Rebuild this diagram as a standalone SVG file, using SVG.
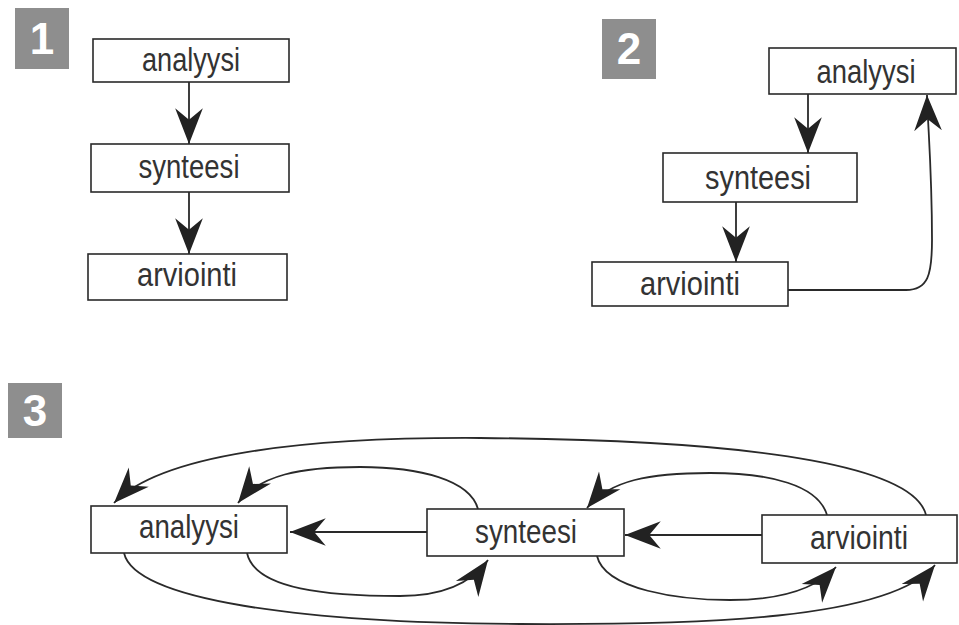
<svg xmlns="http://www.w3.org/2000/svg" width="959" height="625" viewBox="0 0 959 625">
<style>
.box{fill:#fff;stroke:#2a2a2a;stroke-width:1.6}
.lbl{font-family:"Liberation Sans",Arial,sans-serif;font-size:34px;fill:#333;text-anchor:middle}
.badge{fill:#8e8e8e}
.num{font-family:"Liberation Sans",Arial,sans-serif;font-weight:bold;font-size:44px;fill:#fff;text-anchor:middle}
.con{fill:none;stroke:#2a2a2a;stroke-width:1.8}
</style>
<defs>
<marker id="ah" markerUnits="userSpaceOnUse" markerWidth="40" markerHeight="30" viewBox="-32 -13 34 26" refX="0" refY="0" orient="auto">
<path d="M0,0 L-31,-12 L-21,0 L-31,12 Z" fill="#222"/>
</marker>
</defs>
<rect width="959" height="625" fill="#fff"/>
<g id="badge1"><rect class="badge" x="15" y="8" width="54" height="61"/><text class="num" x="42" y="54">1</text></g>
<g id="badge2"><rect class="badge" x="602" y="19" width="54" height="60"/><text class="num" x="629" y="64">2</text></g>
<g id="badge3"><rect class="badge" x="8" y="383" width="54" height="55"/><text class="num" x="35" y="426">3</text></g>

<g id="connectors">
<path class="con" d="M189,82 L189,144" marker-end="url(#ah)"/>
<path class="con" d="M189,192 L189,254" marker-end="url(#ah)"/>
<path class="con" d="M808,94 L808,153" marker-end="url(#ah)"/>
<path class="con" d="M736,202 L736,262" marker-end="url(#ah)"/>
<path class="con" d="M788,290 L906,290 C928,290 932,275 932,240 C932,170 928,130 927,95" marker-end="url(#ah)"/>
<path class="con" d="M427,532 L290,532" marker-end="url(#ah)"/>
<path class="con" d="M762,535 L625,535" marker-end="url(#ah)"/>
<path class="con" d="M926,515 C915,470 780,440 480,438 C300,437 160,455 114,503" marker-end="url(#ah)"/>
<path class="con" d="M478,509 C470,480 420,467 360,467 C300,467 260,475 238,503" marker-end="url(#ah)"/>
<path class="con" d="M827,515 C818,485 770,473 710,473 C650,473 610,480 587,508" marker-end="url(#ah)"/>
<path class="con" d="M124,553 C135,600 300,623 520,624 C700,625 890,620 935,565" marker-end="url(#ah)"/>
<path class="con" d="M247,553 C255,590 330,596 400,596 C440,596 470,585 488,560" marker-end="url(#ah)"/>
<path class="con" d="M597,556 C605,590 680,600 730,600 C780,600 815,590 836,567" marker-end="url(#ah)"/>
</g>

<g id="p1-analyysi"><rect class="box" x="93" y="39" width="196" height="43"/><text class="lbl" x="191" y="71" textLength="98" lengthAdjust="spacingAndGlyphs">analyysi</text></g>
<g id="p1-synteesi"><rect class="box" x="91" y="144" width="198" height="48"/><text class="lbl" x="189" y="178" textLength="101" lengthAdjust="spacingAndGlyphs">synteesi</text></g>
<g id="p1-arviointi"><rect class="box" x="88" y="254" width="199" height="46"/><text class="lbl" x="187" y="286" textLength="100" lengthAdjust="spacingAndGlyphs">arviointi</text></g>

<g id="p2-analyysi"><rect class="box" x="769" y="48" width="187" height="46"/><text class="lbl" x="866" y="83" textLength="99" lengthAdjust="spacingAndGlyphs">analyysi</text></g>
<g id="p2-synteesi"><rect class="box" x="663" y="153" width="194" height="49"/><text class="lbl" x="758" y="189" textLength="106" lengthAdjust="spacingAndGlyphs">synteesi</text></g>
<g id="p2-arviointi"><rect class="box" x="592" y="262" width="196" height="44"/><text class="lbl" x="690" y="295" textLength="100" lengthAdjust="spacingAndGlyphs">arviointi</text></g>

<g id="p3-analyysi"><rect class="box" x="91" y="506" width="196" height="47"/><text class="lbl" x="189" y="538" textLength="100" lengthAdjust="spacingAndGlyphs">analyysi</text></g>
<g id="p3-synteesi"><rect class="box" x="427" y="509" width="197" height="47"/><text class="lbl" x="526" y="543" textLength="102" lengthAdjust="spacingAndGlyphs">synteesi</text></g>
<g id="p3-arviointi"><rect class="box" x="762" y="515" width="195" height="48"/><text class="lbl" x="859" y="549" textLength="98" lengthAdjust="spacingAndGlyphs">arviointi</text></g>
</svg>
